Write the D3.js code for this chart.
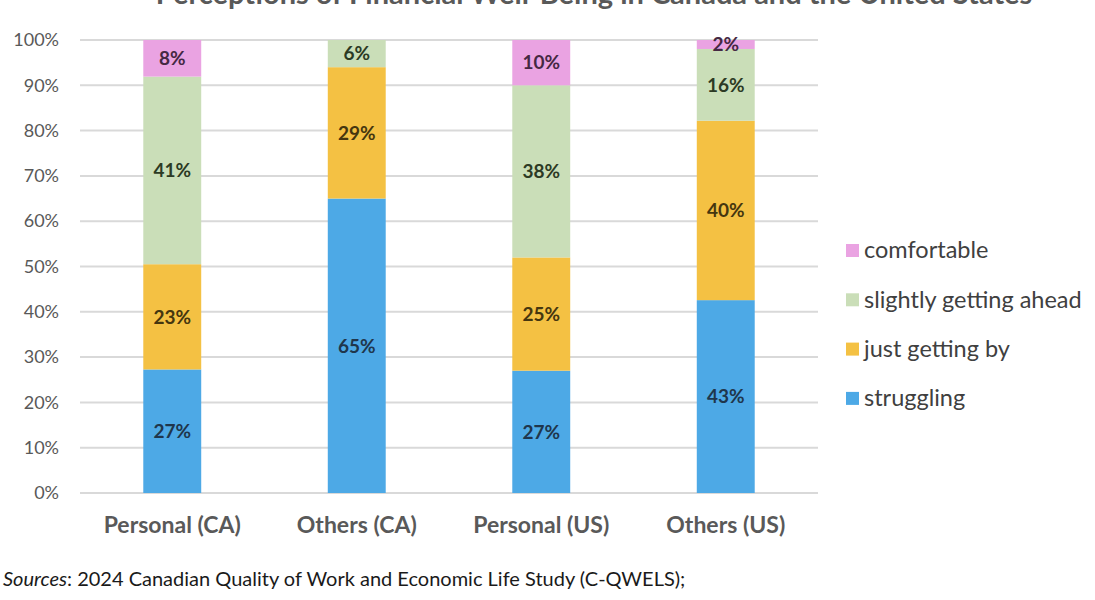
<!DOCTYPE html>
<html><head><meta charset="utf-8">
<script src="https://cdn.jsdelivr.net/npm/d3@7"></script>
<style>body{margin:0;background:#fff;} svg{display:block;}</style>
</head><body>
<script>
const categories = ["Personal (CA)", "Others (CA)", "Personal (US)", "Others (US)"];
const seriesNames = ["struggling", "just getting by", "slightly getting ahead", "comfortable"];
const struggling = [27, 65, 27, 43];
const justGettingBy = [23, 29, 25, 40];
const slightlyAhead = [41, 6, 38, 16];
const comfortable = [8, 0, 10, 2];
const yTicks = [0, 0.1, 0.2, 0.3, 0.4, 0.5, 0.6, 0.7, 0.8, 0.9, 1.0];
const colors = ["#4DA9E6", "#F4C143", "#CADEB8", "#EAA3E2"];
const labelColors = ["#1F364C", "#45360F", "#2C3A24", "#452843"];

const W = 1095, H = 600;
const svg = d3.select("body").append("svg").attr("width", W).attr("height", H);
const font = "Lato, 'Open Sans', sans-serif";

const table = categories.map((c, i) => ({
  cat: c,
  "struggling": struggling[i],
  "just getting by": justGettingBy[i],
  "slightly getting ahead": slightlyAhead[i],
  "comfortable": comfortable[i]
}));
const stacked = d3.stack().keys(seriesNames).offset(d3.stackOffsetExpand)(table);

const x = d3.scaleBand().domain(categories).range([80, 818]).paddingInner(0.686).paddingOuter(0.343);
const y = d3.scaleLinear().domain([0, 1]).range([493, 40]);

// gridlines
svg.append("g").selectAll("line").data(yTicks).join("line")
  .attr("x1", 80).attr("x2", 818)
  .attr("y1", d => y(d)).attr("y2", d => y(d))
  .attr("stroke", "#D9D9D9").attr("stroke-width", 2);

// y axis labels
const yAxis = d3.axisLeft(y).tickValues(yTicks).tickFormat(d3.format(".0%")).tickSize(0).tickPadding(0);
const ya = svg.append("g").attr("transform", "translate(59,0)").call(yAxis);
ya.select(".domain").remove();
ya.selectAll("text").attr("font-family", font).attr("font-size", 18).attr("fill", "#595959");

// bars
const groups = svg.append("g").selectAll("g").data(stacked).join("g")
  .attr("fill", (d, i) => colors[i]);
groups.selectAll("rect").data(d => d.map(p => ({p, key: d.key}))).join("rect")
  .attr("x", d => x(d.p.data.cat))
  .attr("width", x.bandwidth())
  .attr("y", d => y(d.p[1]))
  .attr("height", d => Math.max(0, y(d.p[0]) - y(d.p[1])));

// labels
stacked.forEach((s, si) => {
  svg.append("g").selectAll("text").data(s.filter(p => p.data[s.key] > 0)).join("text")
    .attr("x", p => x(p.data.cat) + x.bandwidth() / 2)
    .attr("y", p => (y(p[0]) + y(p[1])) / 2)
    .attr("dy", "0.36em")
    .attr("text-anchor", "middle")
    .attr("font-family", font).attr("font-weight", "bold").attr("font-size", 19)
    .attr("fill", labelColors[si])
    .text(p => p.data[s.key] + "%");
});

// x axis labels
const xAxis = d3.axisBottom(x).tickSize(0).tickPadding(0);
const xa = svg.append("g").attr("transform", "translate(0,525)").call(xAxis);
xa.select(".domain").remove();
xa.selectAll("text").attr("font-family", font).attr("font-weight", "bold").attr("font-size", 23).attr("fill", "#595959").attr("dy", "0.35em");

// legend
const legendOrder = seriesNames.map((n, i) => ({n, i})).reverse();
const lg = svg.append("g").selectAll("g").data(legendOrder).join("g")
  .attr("transform", (d, k) => `translate(846,${250 + k * 49.3})`);
lg.append("rect").attr("x", 0).attr("y", -6).attr("width", 13).attr("height", 13).attr("fill", d => colors[d.i]);
lg.append("text").attr("x", 18).attr("dy", "0.35em")
  .attr("font-family", font).attr("font-size", 23.5).attr("fill", "#404040").text(d => d.n);

// title (cut off at top, as in the reference)
svg.append("text").attr("x", 594).attr("y", 4).attr("text-anchor", "middle")
  .attr("font-family", font).attr("font-weight", "bold").attr("font-size", 29).attr("fill", "#595959")
  .text("Perceptions of Financial Well-Being in Canada and the United States");

// source
const src = svg.append("text").attr("x", 3).attr("y", 586)
  .attr("font-family", font).attr("font-size", 20).attr("fill", "#1a1a1a");
src.append("tspan").attr("font-style", "italic").text("Sources");
src.append("tspan").text(": 2024 Canadian Quality of Work and Economic Life Study (C-QWELS);");
</script>
</body></html>
